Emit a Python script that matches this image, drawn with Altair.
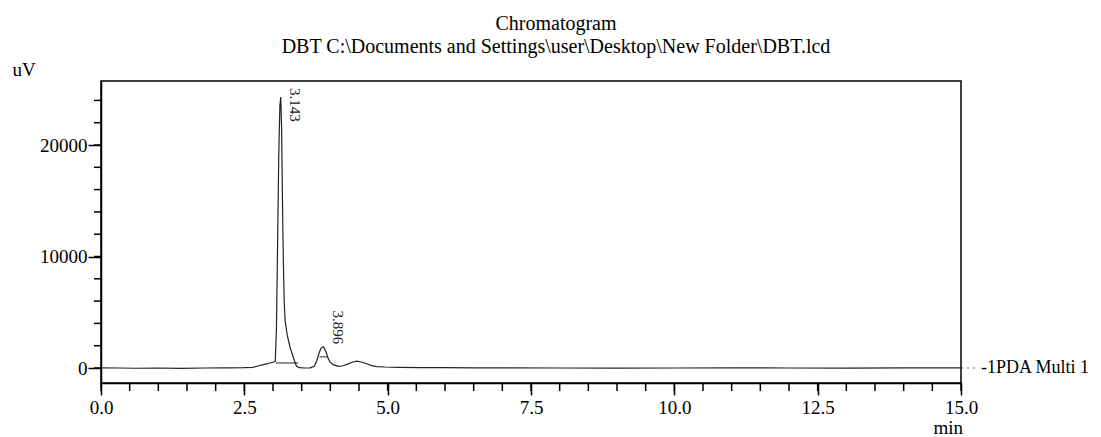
import altair as alt
import pandas as pd

# ---- data ----
time_min = [0.0, 0.3, 0.6, 1.0, 1.4, 1.8, 2.2, 2.5, 2.65, 2.75, 2.85, 2.95, 3.0,
            3.04, 3.06, 3.08, 3.10, 3.12, 3.135, 3.15, 3.165, 3.18, 3.195, 3.21,
            3.25, 3.30, 3.33, 3.37, 3.41, 3.46, 3.55, 3.65, 3.72, 3.76, 3.80,
            3.84, 3.88, 3.92, 3.96, 3.99, 4.05, 4.14, 4.22, 4.30, 4.38, 4.46,
            4.54, 4.62, 4.72, 4.81, 4.95, 5.2, 5.6, 6.0, 6.5, 7.0, 8.0, 9.0,
            10.0, 11.0, 12.0, 13.0, 14.0, 15.0]
signal_uv = [20, 0, -20, 0, -30, 0, 20, 30, 60, 200, 330, 450, 520,
             600, 3500, 11000, 19000, 23500, 24300, 21500, 15000, 9700, 6000, 4300,
             2900, 1800, 1340, 700, 150, 30, 0, 20, 150, 600, 1300,
             1800, 1910, 1500, 900, 570, 300, 140, 200, 350, 520, 620,
             540, 400, 220, 130, 90, 60, 40, 30, 20, 10, 0, -10,
             0, 10, 0, -10, 10, 20]

seg_id = ["a", "a", "b", "b"]
seg_time = [3.05, 3.44, 3.81, 3.96]
seg_uv = [450, 450, 1000, 1000]

peak_time = [3.143, 3.896]
peak_uv = [24300, 1950]
peak_label = ["3.143", "3.896"]

title_lines = ["Chromatogram",
               "DBT C:\\Documents and Settings\\user\\Desktop\\New Folder\\DBT.lcd"]
channel_name = "-1PDA Multi 1"
x_major = [0.0, 2.5, 5.0, 7.5, 10.0, 12.5, 15.0]
x_minor = [i * 0.5 for i in range(31)]
y_major = [0, 10000, 20000]
y_minor = [i * 2000 for i in range(13)]

SERIF = "Liberation Serif"
PLOT_W, PLOT_H = 860, 302
X_DOM = [0, 15]
Y_DOM = [-1345, 25740]

trace = pd.DataFrame({"t": time_min, "v": signal_uv})
segs = pd.DataFrame({"id": seg_id, "t": seg_time, "v": seg_uv})
peaks = pd.DataFrame({"t": peak_time, "v": peak_uv, "label": peak_label})
xminor_df = pd.DataFrame({"tm": x_minor})
yminor_df = pd.DataFrame({"vm": y_minor})

x_scale = alt.Scale(domain=X_DOM, nice=False, zero=False)
y_scale = alt.Scale(domain=Y_DOM, nice=False, zero=False)

x_axis = alt.Axis(
    values=x_major, format=".1f", orient="bottom",
    tickSize=12, labelPadding=3, labelFlush=False, labelOverlap=False,
    title="min", titleX=832, titleY=50, titleAlign="left",
    titleBaseline="alphabetic", titleAngle=0,
)
y_axis = alt.Axis(
    values=y_major, format="d", orient="left",
    tickSize=13, labelPadding=1, labelFlush=False, labelOverlap=False,
    title="uV", titleX=-89, titleY=-6, titleAlign="left",
    titleBaseline="alphabetic", titleAngle=0,
)

line = alt.Chart(trace).mark_line(color="#222222", strokeWidth=1.2).encode(
    x=alt.X("t:Q", scale=x_scale, axis=x_axis),
    y=alt.Y("v:Q", scale=y_scale, axis=y_axis),
)

baselines = alt.Chart(segs).mark_line(color="#222222", strokeWidth=1.0).encode(
    x=alt.X("t:Q", scale=x_scale), y=alt.Y("v:Q", scale=y_scale), detail="id:N",
)

# minor ticks as tick marks placed through the shared scales
x_minor_ticks = alt.Chart(xminor_df).mark_tick(
    orient="vertical", size=8, thickness=1.5, color="black", opacity=1, yOffset=4
).encode(
    x=alt.X("tm:Q", scale=x_scale),
    y=alt.datum(Y_DOM[0]),
)
y_minor_ticks = alt.Chart(yminor_df).mark_tick(
    orient="horizontal", size=7, thickness=1.5, color="black", opacity=1, xOffset=-3.5
).encode(
    y=alt.Y("vm:Q", scale=y_scale),
    x=alt.datum(X_DOM[0]),
)

lbl1 = alt.Chart(peaks.iloc[[0]]).mark_text(
    angle=90, align="left", baseline="bottom", dx=-9, dy=-6,
    font=SERIF, fontSize=15, color="#222222"
).encode(x="t:Q", y="v:Q", text="label:N")

lbl2 = alt.Chart(peaks.iloc[[1]]).mark_text(
    angle=90, align="right", baseline="bottom", dx=-2, dy=-6,
    font=SERIF, fontSize=15, color="#222222"
).encode(x="t:Q", y="v:Q", text="label:N")

leader = alt.Chart(pd.DataFrame({"a": [0]})).mark_rule(
    color="#555555", strokeDash=[2, 4], strokeWidth=1.2
).encode(x=alt.datum(15), x2=alt.datum(15.32), y=alt.datum(0))

chan = alt.Chart(pd.DataFrame({"a": [0]})).mark_text(
    align="left", baseline="middle", dx=20, font=SERIF, fontSize=18, color="black"
).encode(x=alt.datum(15), y=alt.datum(0), text=alt.datum(channel_name))

chart = alt.layer(
    line, baselines, lbl1, lbl2, leader, chan, x_minor_ticks, y_minor_ticks
).properties(
    width=PLOT_W, height=PLOT_H,
    autosize=alt.AutoSizeParams(type="none"),
    padding={"left": 93, "top": 73, "right": 131, "bottom": 54},
    title=alt.TitleParams(
        text=title_lines, font=SERIF, fontSize=20, fontWeight="normal",
        color="black", anchor="middle", dx=25, offset=3, lineHeight=23,
    ),
).configure_view(
    stroke="black", strokeWidth=1.5
).configure_axis(
    grid=False, domainColor="black", domainWidth=1.5, tickColor="black",
    tickWidth=1.5, labelColor="black", labelFont=SERIF, labelFontSize=19,
    titleFont=SERIF, titleFontSize=19, titleFontWeight="normal", titleColor="black",
)

chart.save("out.html", embed_options={"renderer": "svg", "actions": False})
